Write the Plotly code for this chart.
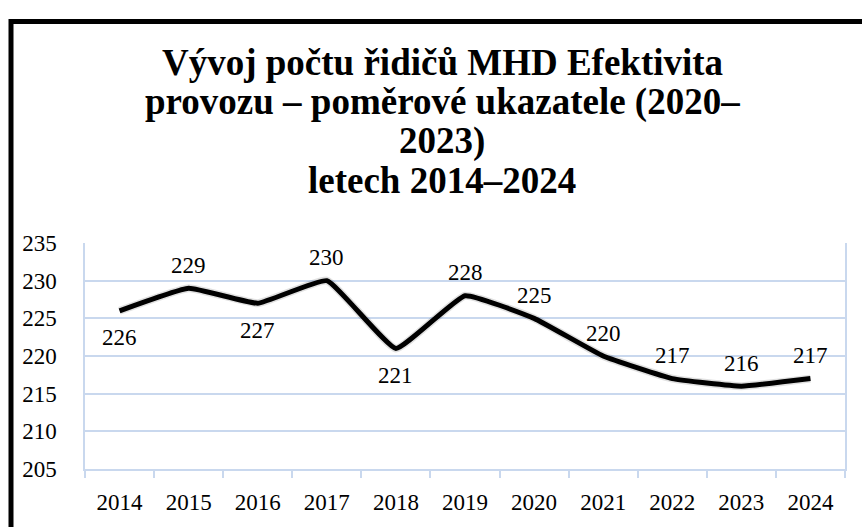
import plotly.graph_objects as go

years = [2014, 2015, 2016, 2017, 2018, 2019, 2020, 2021, 2022, 2023, 2024]
drivers = [226, 229, 227, 230, 221, 228, 225, 220, 217, 216, 217]
label_side = ["below", "above", "below", "above", "below", "above", "above", "above", "above", "above", "above"]
y_ticks = [205, 210, 215, 220, 225, 230, 235]
title_lines = ["Vývoj počtu řidičů MHD Efektivita",
               "provozu – poměrové ukazatele (2020–",
               "2023)",
               "letech 2014–2024"]

FONT = "Liberation Serif, Times New Roman, serif"
GRID = "#c9d8ee"

W, H = 862, 527
ML, MR, MT, MB = 85, 17, 243, 53
pw, ph = W - ML - MR, H - MT - MB

def px_x(px):
    return (px - ML) / pw

def px_y(py):
    return (H - MB - py) / ph

fig = go.Figure()
fig.add_trace(go.Scatter(
    x=years, y=drivers, mode="lines",
    line=dict(color="rgba(0,0,0,0.12)", width=8, shape="spline", smoothing=0.35),
    hoverinfo="skip", showlegend=False,
))
fig.add_trace(go.Scatter(
    x=years, y=drivers, mode="lines",
    line=dict(color="black", width=5, shape="spline", smoothing=0.35),
    showlegend=False,
))

for yr, v, side in zip(years, drivers, label_side):
    fig.add_annotation(
        x=yr, y=v, text=str(v), showarrow=False,
        yshift=-27 if side == "below" else 23,
        font=dict(family=FONT, size=23, color="black"),
    )

for i, line in enumerate(title_lines):
    fig.add_annotation(
        xref="paper", yref="paper", x=px_x(442), y=px_y(59 + 40 * i),
        xanchor="center", yanchor="middle", text="<b>" + line + "</b>", showarrow=False,
        font=dict(family=FONT, size=37, color="black"),
    )

fig.add_shape(
    type="rect", xref="paper", yref="paper",
    x0=px_x(11), x1=px_x(900), y0=px_y(560), y1=px_y(16.5),
    line=dict(color="black", width=5), fillcolor="rgba(0,0,0,0)", layer="above",
)

fig.update_layout(
    width=W, height=H,
    margin=dict(l=ML, r=MR, t=MT, b=MB),
    paper_bgcolor="white", plot_bgcolor="white",
    font=dict(family=FONT, size=23, color="black"),
    showlegend=False,
)
fig.update_xaxes(
    range=[2013.5, 2024.5], tickvals=years, ticktext=[str(y) for y in years],
    ticks="", showline=True, linecolor=GRID, linewidth=1.5,
    showgrid=False, zeroline=False, ticklabelstandoff=12,
    minor=dict(ticks="outside", tick0=2013.5, dtick=1, ticklen=7, tickcolor=GRID, tickwidth=1.5, showgrid=False),
    tickfont=dict(family=FONT, size=23, color="black"),
)
fig.update_yaxes(
    range=[205, 235], tickvals=y_ticks, showgrid=True, gridcolor=GRID, gridwidth=1.5,
    showline=True, linecolor=GRID, linewidth=1.5, mirror=True, zeroline=False,
    ticks="", ticklabelstandoff=22,
    tickfont=dict(family=FONT, size=23, color="black"),
)

fig.write_html("out.html")
